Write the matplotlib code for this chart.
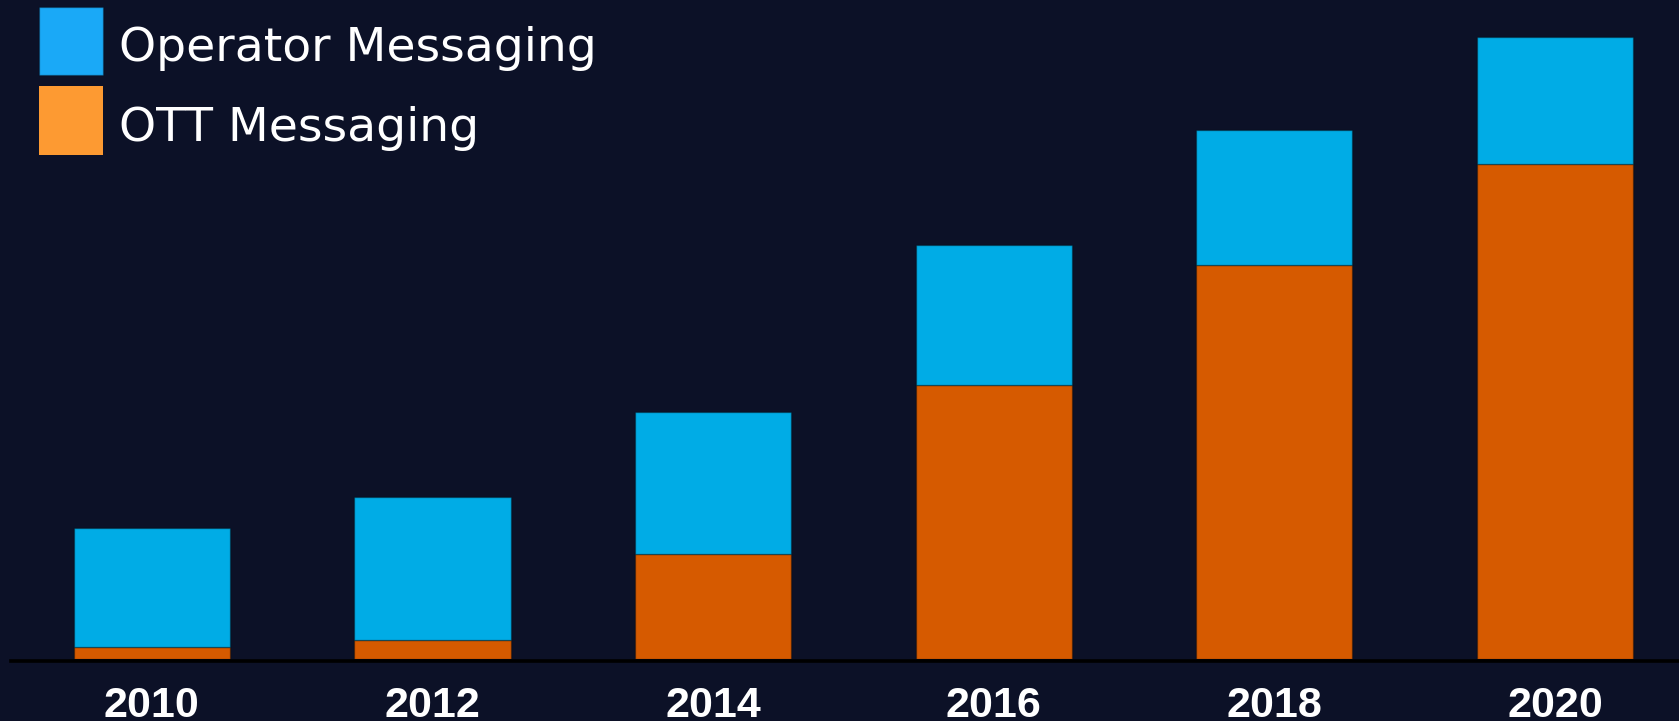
import matplotlib
matplotlib.use('Agg')
import matplotlib.pyplot as plt
import matplotlib.patches as mpatches
import matplotlib.transforms as mtransforms
import numpy as np

# data (arbitrary units)
years = ['2010', '2012', '2014', '2016', '2018', '2020']
ott_messaging = [0.12, 0.19, 1.05, 2.74, 3.94, 4.95]
operator_messaging = [1.19, 1.43, 1.42, 1.40, 1.35, 1.27]
series_labels = ['Operator Messaging', 'OTT Messaging']

bg = '#0c1127'
blue_bar = '#00ace6'
orange_bar = '#d65a00'
blue_legend = '#1aa9f7'
orange_legend = '#fd9a32'


def main():
    fig = plt.figure(figsize=(16.79, 7.21), dpi=100, facecolor=bg)
    ax = fig.add_axes([11 / 1679, 1 - 659 / 721, 1 - 11 / 1679, 659 / 721])
    ax.set_facecolor(bg)

    x = np.arange(len(years))
    edge = (0, 0, 0, 0.3)
    ax.bar(x, ott_messaging, width=0.556, color=orange_bar, edgecolor=edge, linewidth=1, zorder=2)
    ax.bar(x, operator_messaging, bottom=ott_messaging, width=0.556, color=blue_bar,
           edgecolor=edge, linewidth=1, zorder=2)

    ax.set_xlim(-0.502, len(years) - 1 + 0.442)
    ax.set_ylim(0, 6.59)

    for s in ['top', 'right', 'left']:
        ax.spines[s].set_visible(False)
    ax.spines['bottom'].set_color('black')
    ax.spines['bottom'].set_linewidth(2.6)
    ax.spines['bottom'].set_position(('outward', 1.4))
    ax.spines['bottom'].set_zorder(1)

    ax.set_yticks([])
    ax.set_xticks(x)
    ax.set_xticklabels(years, fontsize=31, fontweight='bold', color='white',
                       family='Liberation Sans')
    ax.tick_params(axis='x', length=0, pad=18)

    handles = [mpatches.Patch(facecolor=blue_legend, edgecolor=(0, 0, 0, 0.25), linewidth=1),
               mpatches.Patch(facecolor=orange_legend, edgecolor='none')]
    leg = fig.legend(handles, series_labels, loc='upper left',
                     bbox_to_anchor=(39 / 1679, 1 - 7 / 721), frameon=False,
                     prop={'family': 'DejaVu Sans', 'size': 34},
                     handlelength=1.36, handleheight=1.85, handletextpad=0.33,
                     labelspacing=0.23, borderpad=0, borderaxespad=0)
    # nudge the labels down a little, they sit lower than the patch centre
    for t in leg.get_texts():
        t.set_color('white')
        t.set_transform(t.get_transform() + mtransforms.Affine2D().translate(0, -5))

    fig.savefig('out.png', dpi=100, facecolor=bg)


if __name__ == '__main__':
    main()
